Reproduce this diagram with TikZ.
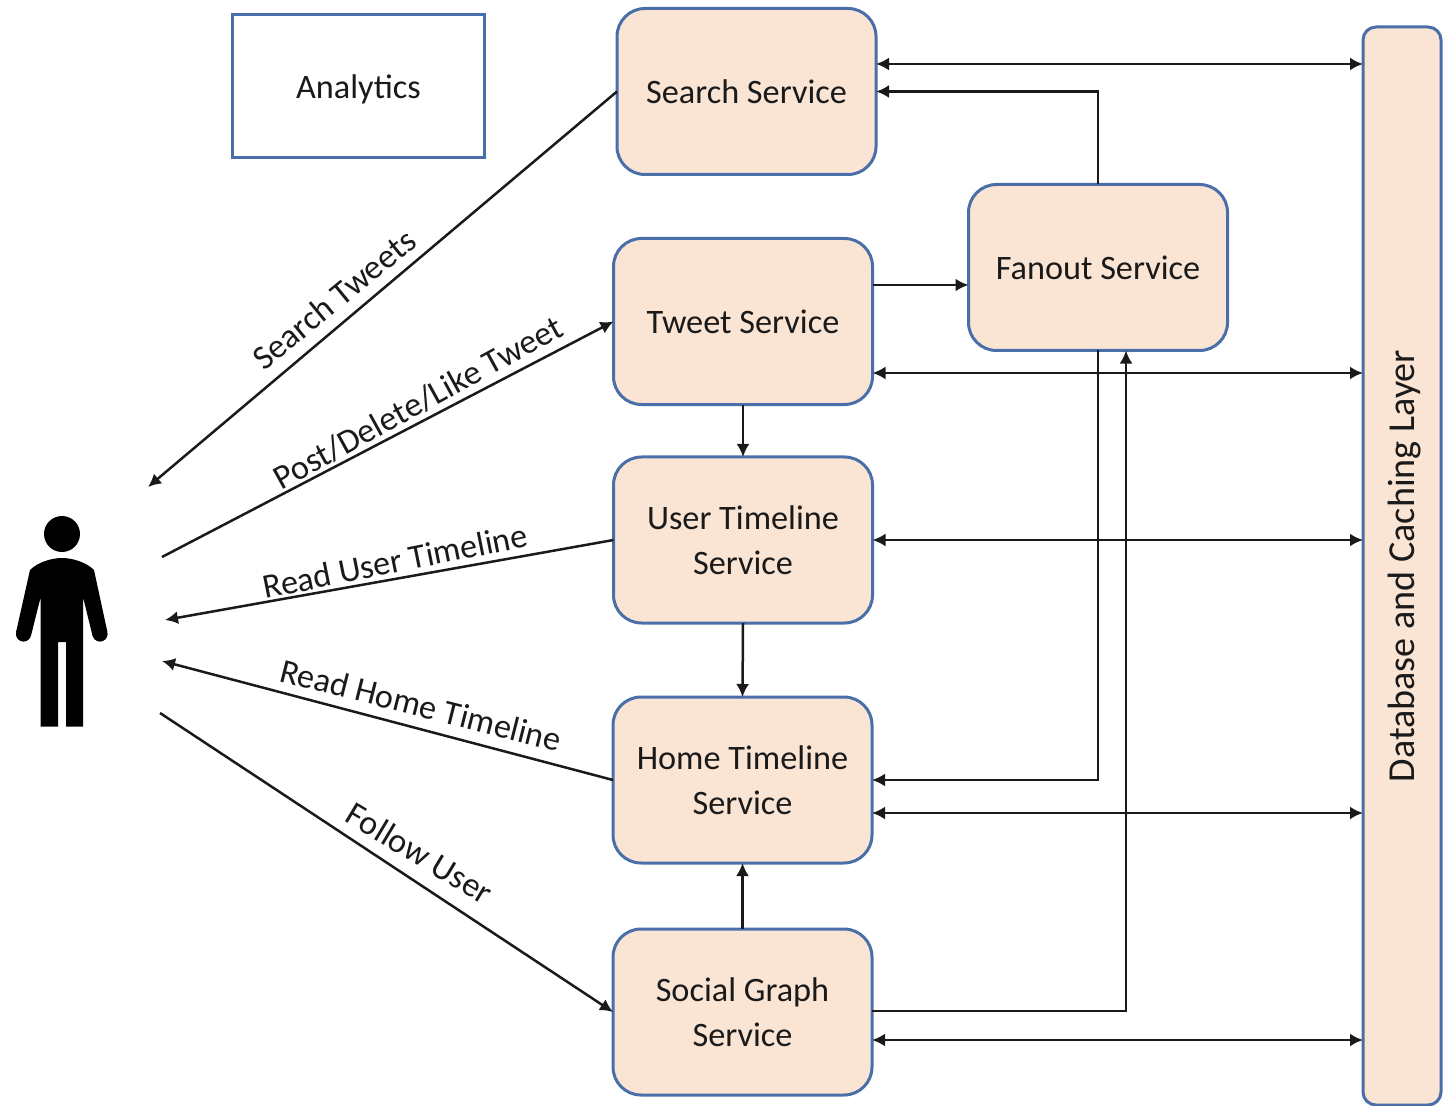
\documentclass[tikz,border=0pt]{standalone}
\usepackage{fontspec}
\setmainfont{Carlito}
\usetikzlibrary{arrows.meta}
\definecolor{boxfill}{HTML}{FAE5D5}
\definecolor{boxline}{HTML}{4A6EA9}
\definecolor{inkline}{HTML}{1A1A1A}
\tikzset{
	svcbox/.style={draw=boxline, fill=boxfill, line width=0.6mm, rounded corners=5.6mm, minimum width=51.8mm, minimum height=33.2mm, outer sep=0pt, align=center, text=inkline, font=\fontsize{19.5}{25.8}\selectfont},
	flowlink/.style={inkline, line width=0.5mm, -{Latex[length=2.6mm,width=2.6mm]}},
	bothlink/.style={flowlink, {Latex[length=2.6mm,width=2.6mm]}-{Latex[length=2.6mm,width=2.6mm]}},
	userlabel/.style={text=inkline, font=\fontsize{19.5}{25.8}\selectfont}
}

\begin{document}
\begin{tikzpicture}[x=0.2mm, y=-0.2mm]
	\useasboundingbox (0, 0) rectangle (1444, 1106);

	\node[svcbox] (search) at (746.5, 91.5) {Search Service};
	\node[svcbox] (tweet) at (743, 321.5) {Tweet Service};
	\node[svcbox] (usertl) at (743, 540) {User Timeline\\Service};
	\node[svcbox] (hometl) at (742.5, 780) {Home Timeline\\Service};
	\node[svcbox] (social) at (742.5, 1012) {Social Graph\\Service};
	\node[svcbox] (fanout) at (1098, 267.5) {Fanout Service};
	\node[svcbox, rounded corners=0pt, fill=none, minimum width=50.4mm, minimum height=28.6mm] (analytics) at (358.5, 86.5) {\raisebox{-1.6pt}[\height][\depth]{Analytics}};
	\node[svcbox, rounded corners=2.6mm, minimum width=15.6mm, minimum height=215.6mm] (db) at (1402, 566) {};
	\node[userlabel, font=\fontsize{21.7}{26}\selectfont, rotate=90] (dblabel) at (1405, 566) {Database and Caching Layer};

	% person
	\fill[black] (62, 534) circle (18);
	\fill[black] (23.5, 634) circle (7.6);
	\fill[black] (100, 634) circle (7.6);
	\fill[black] (62, 558) .. controls (72, 558) and (86, 562) .. (94, 570) -- (107.4, 632) -- (92.6, 636) -- (83, 597) -- (83, 726.5) -- (66, 726.5) -- (66, 642) -- (58, 642) -- (58, 726.5) -- (40.7, 726.5) -- (40.7, 597) -- (30.9, 636) -- (16.1, 632) -- (30, 570) .. controls (38, 562) and (52, 558) .. (62, 558);

	\coordinate (endsearch) at (148, 487);
	\coordinate (endtweet) at (162, 557);
	\coordinate (endusertl) at (165, 620);
	\coordinate (endhometl) at (162, 661);
	\coordinate (endsocial) at (160, 713);

	\draw[flowlink] (search.west) -- (endsearch);
	\draw[flowlink] (endtweet) -- (tweet.west);
	\draw[flowlink] (usertl.west) -- (endusertl);
	\draw[flowlink] (hometl.west) -- (endhometl);
	\draw[flowlink] (endsocial) -- (social.west);

	\node[userlabel, rotate=39.4] (lblsearch) at (334, 299) {Search Tweets};
	\node[userlabel, rotate=28.8] (lbltweet) at (418, 403) {Post/Delete/Like Tweet};
	\node[userlabel, rotate=11.3] (lblusertl) at (395, 561) {Read User Timeline};
	\node[userlabel, rotate=-14.2] (lblhometl) at (421, 705) {Read Home Timeline};
	\node[userlabel, rotate=-31] (lblsocial) at (420, 853) {Follow User};

	\draw[flowlink] (tweet.south) -- (usertl.north);
	\draw[flowlink] (usertl.south) -- (hometl.north);
	\draw[flowlink] (social.north) -- (hometl.south);

	\draw[bothlink] (search.east |- 0, 64) -- (db.west |- 0, 64);
	\draw[bothlink] (tweet.east |- 0, 373) -- (db.west |- 0, 373);
	\draw[bothlink] (usertl.east) -- (db.west |- usertl.east);
	\draw[bothlink] (hometl.east |- 0, 813) -- (db.west |- 0, 813);
	\draw[bothlink] (social.east |- 0, 1040) -- (db.west |- 0, 1040);

	\draw[flowlink] (fanout.north) |- (search.east);
	\draw[flowlink] (tweet.east |- 0, 285) -- (fanout.west |- 0, 285);
	\draw[flowlink] (fanout.south) |- (hometl.east);
	\draw[flowlink] (social.east |- 0, 1011) -| (fanout.south -| 1126, 0);
\end{tikzpicture}
\end{document}
